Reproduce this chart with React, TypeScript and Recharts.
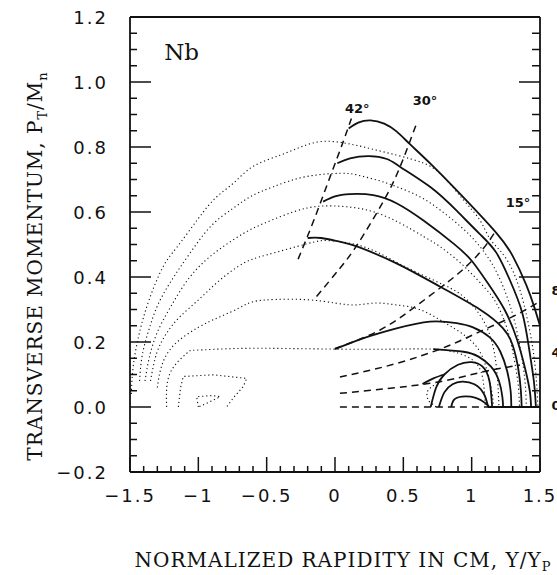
import { LineChart, Line, XAxis, YAxis, ReferenceDot } from "recharts";

type Pt = [number, number];

// axis ticks
const xMajor = [-1.5, -1, -0.5, 0, 0.5, 1, 1.5];
const yMajor = [-0.2, 0, 0.2, 0.4, 0.6, 0.8, 1.0, 1.2];
const xTicks = Array.from({ length: 31 }, (_, i) => +(-1.5 + i * 0.1).toFixed(2));
const yTicks = Array.from({ length: 29 }, (_, i) => +(-0.2 + i * 0.05).toFixed(2));

// dotted contours
const dot1: Pt[] = [[-1.49, 0.04], [-1.475, 0.13], [-1.43, 0.23], [-1.36, 0.33], [-1.26, 0.43], [-1.16, 0.49], [-1.0, 0.58], [-0.87, 0.645], [-0.74, 0.69], [-0.6, 0.74], [-0.4, 0.775], [-0.25, 0.8], [-0.1, 0.817], [0.06, 0.813], [0.21, 0.8], [0.45, 0.775], [0.65, 0.75], [0.79, 0.71], [0.94, 0.637], [1.06, 0.575], [1.13, 0.52], [1.21, 0.48], [1.3, 0.42], [1.38, 0.32], [1.44, 0.2], [1.47, 0.1], [1.485, 0.0]];
const dot2: Pt[] = [[-1.43, 0.08], [-1.41, 0.16], [-1.36, 0.24], [-1.29, 0.32], [-1.18, 0.4], [-1.05, 0.48], [-0.9, 0.56], [-0.75, 0.61], [-0.62, 0.647], [-0.45, 0.678], [-0.21, 0.709], [0.04, 0.719], [0.16, 0.714], [0.31, 0.698], [0.45, 0.678], [0.62, 0.647], [0.77, 0.606], [0.92, 0.555], [1.04, 0.504], [1.15, 0.44], [1.24, 0.36], [1.31, 0.27], [1.36, 0.17], [1.39, 0.08], [1.4, 0.0]];
const dot3: Pt[] = [[-1.39, 0.08], [-1.36, 0.15], [-1.3, 0.23], [-1.2, 0.31], [-1.08, 0.39], [-0.95, 0.45], [-0.82, 0.493], [-0.67, 0.534], [-0.52, 0.565], [-0.3, 0.601], [-0.11, 0.618], [0.085, 0.616], [0.28, 0.601], [0.48, 0.565], [0.65, 0.524], [0.77, 0.493], [0.9, 0.45], [1.0, 0.41], [1.1, 0.365], [1.18, 0.32], [1.26, 0.24], [1.31, 0.15], [1.34, 0.07], [1.35, 0.0]];
const dot4: Pt[] = [[-1.35, 0.08], [-1.305, 0.165], [-1.232, 0.227], [-1.134, 0.278], [-0.988, 0.334], [-0.841, 0.391], [-0.671, 0.442], [-0.5, 0.468], [-0.207, 0.502], [-0.05, 0.512], [0.15, 0.5], [0.33, 0.472], [0.535, 0.427], [0.795, 0.376], [0.95, 0.336], [1.08, 0.27], [1.16, 0.18], [1.19, 0.08], [1.2, 0.0]];
const dot5: Pt[] = [[-1.3, 0.06], [-1.27, 0.124], [-1.18, 0.19], [-1.0, 0.245], [-0.84, 0.278], [-0.7, 0.305], [-0.6, 0.324], [-0.43, 0.331], [-0.2, 0.33], [0.0, 0.32], [0.15, 0.314], [0.3, 0.32], [0.45, 0.314], [0.62, 0.3], [0.8, 0.26], [0.95, 0.22], [1.06, 0.17], [1.12, 0.1], [1.15, 0.04], [1.16, 0.0]];
const dot6: Pt[] = [[-1.232, 0.0], [-1.207, 0.104], [-1.085, 0.165], [-1.012, 0.175], [-0.72, 0.18], [-0.35, 0.18], [0.04, 0.178], [0.4, 0.178], [0.72, 0.178], [0.9, 0.166], [1.02, 0.14], [1.08, 0.09], [1.1, 0.0]];
const loop1: Pt[] = [[-1.146, 0.0], [-1.13, 0.06], [-1.11, 0.094], [-0.89, 0.099], [-0.646, 0.088], [-0.671, 0.063], [-0.74, 0.03], [-0.793, 0.0]];
const loop2: Pt[] = [[-1.0, 0.0], [-1.012, 0.032], [-0.9, 0.035], [-0.84, 0.032], [-0.92, 0.015], [-1.0, 0.0]];
const loop3: Pt[] = [[0.74, 0.0], [0.68, 0.02], [0.67, 0.045], [0.71, 0.065], [0.77, 0.07]];

// solid contours
const sol1: Pt[] = [[0.1, 0.857], [0.17, 0.875], [0.26, 0.882], [0.36, 0.872], [0.45, 0.848], [0.55, 0.808], [0.7, 0.748], [0.94, 0.645], [1.18, 0.536], [1.3, 0.465], [1.4, 0.375], [1.46, 0.305], [1.5, 0.25]];
const sol2: Pt[] = [[0.017, 0.75], [0.11, 0.765], [0.25, 0.772], [0.38, 0.763], [0.48, 0.738], [0.7, 0.676], [0.89, 0.604], [1.06, 0.532], [1.18, 0.475], [1.28, 0.39], [1.37, 0.29], [1.42, 0.18], [1.455, 0.08], [1.47, 0.0]];
const sol3: Pt[] = [[-0.087, 0.632], [0.0, 0.648], [0.11, 0.655], [0.28, 0.652], [0.45, 0.627], [0.65, 0.573], [0.87, 0.502], [1.0, 0.45], [1.12, 0.38], [1.24, 0.3], [1.33, 0.21], [1.39, 0.12], [1.425, 0.05], [1.435, 0.0]];
const sol4: Pt[] = [[-0.2, 0.52], [-0.1, 0.52], [0.04, 0.508], [0.16, 0.494], [0.45, 0.442], [0.77, 0.37], [1.06, 0.3], [1.23, 0.242], [1.3, 0.19], [1.34, 0.12], [1.36, 0.05], [1.366, 0.0]];
const sol5: Pt[] = [[0.0, 0.178], [0.21, 0.212], [0.45, 0.242], [0.695, 0.263], [0.89, 0.258], [1.01, 0.245], [1.13, 0.215], [1.21, 0.17], [1.26, 0.11], [1.285, 0.05], [1.29, 0.0]];
const sol6: Pt[] = [[0.72, 0.178], [0.94, 0.17], [1.05, 0.155], [1.14, 0.125], [1.2, 0.08], [1.225, 0.03], [1.23, 0.0]];
const sol7: Pt[] = [[0.64, 0.071], [0.72, 0.088], [0.8, 0.1]];
const arc1: Pt[] = [[0.7, 0.0], [0.74, 0.06], [0.8, 0.1], [0.9, 0.13], [1.0, 0.138], [1.08, 0.124], [1.13, 0.08], [1.15, 0.0]];
const arc2: Pt[] = [[0.76, 0.0], [0.8, 0.045], [0.86, 0.07], [0.93, 0.078], [1.02, 0.07], [1.09, 0.04], [1.12, 0.0]];
const arc3: Pt[] = [[0.85, 0.0], [0.87, 0.022], [0.93, 0.032], [1.03, 0.028], [1.1, 0.012], [1.13, 0.0]];
const base: Pt[] = [[1.12, 0.0], [1.5, 0.0]];

// dashed angle lines
const ang42: Pt[] = [[-0.27, 0.455], [-0.15, 0.58], [-0.03, 0.715], [0.05, 0.805], [0.12, 0.888]];
const ang30: Pt[] = [[-0.135, 0.34], [0.036, 0.427], [0.17, 0.504], [0.353, 0.632], [0.476, 0.739], [0.602, 0.878]];
const ang15: Pt[] = [[0.0, 0.18], [0.33, 0.237], [0.62, 0.319], [0.9, 0.41], [1.08, 0.485], [1.18, 0.545]];
const ang8: Pt[] = [[0.036, 0.092], [0.45, 0.134], [0.817, 0.186], [1.06, 0.232], [1.3, 0.278], [1.48, 0.32]];
const ang4: Pt[] = [[0.036, 0.042], [0.695, 0.073], [1.06, 0.106], [1.353, 0.129]];
const ang0: Pt[] = [[0.036, 0.0], [1.16, 0.0]];

const angleTags = [
  { text: "42°", x: 0.073, y: 0.906 },
  { text: "30°", x: 0.569, y: 0.929 },
  { text: "15°", x: 1.249, y: 0.614 },
  { text: "8°", x: 1.585, y: 0.345 },
  { text: "4°", x: 1.585, y: 0.155 },
  { text: "0°", x: 1.585, y: -0.009 },
];

const rows = (p: Pt[]) => p.map(([x, y]) => ({ x, y }));
const ink = "#111";
const minus = (s: string) => s.replace("-", "\u2212");

const BottomTick = ({ x, y, payload }: any) => {
  const v = payload.value;
  const major = xMajor.some((m) => Math.abs(m - v) < 1e-6);
  return (
    <g>
      <line x1={x} x2={x} y1={y} y2={y - (major ? 15 : 6)} stroke={ink} strokeWidth={1.5} />
      {major && (
        <text x={x} y={y + 30} textAnchor="middle" fontFamily="DejaVu Sans" fontSize={18} letterSpacing={2} fill={ink}>
          {minus(String(v))}
        </text>
      )}
    </g>
  );
};

const TopTick = ({ x, y, payload }: any) => {
  const major = xMajor.some((m) => Math.abs(m - payload.value) < 1e-6);
  return <line x1={x} x2={x} y1={y} y2={y + (major ? 8 : 5)} stroke={ink} strokeWidth={1.5} />;
};

const LeftTick = ({ x, y, payload }: any) => {
  const v = payload.value;
  const major = yMajor.some((m) => Math.abs(m - v) < 1e-6);
  return (
    <g>
      <line x1={x} x2={x + (major ? 21 : 7)} y1={y} y2={y} stroke={ink} strokeWidth={1.5} />
      {major && (
        <text x={x - 22} y={y + 7} textAnchor="end" fontFamily="DejaVu Sans" fontSize={18} letterSpacing={2} fill={ink}>
          {minus(v.toFixed(1))}
        </text>
      )}
    </g>
  );
};

const RightTick = ({ x, y, payload }: any) => {
  const major = yMajor.some((m) => Math.abs(m - payload.value) < 1e-6);
  return <line x1={x} x2={x - (major ? 21 : 8)} y1={y} y2={y} stroke={ink} strokeWidth={1.5} />;
};

const XTitle = ({ viewBox }: any) => (
  <text x={viewBox.x + viewBox.width / 2 + 8} y={viewBox.y + 95} textAnchor="middle" fontFamily="DejaVu Serif" fontSize={20} letterSpacing={1} fill={ink}>
    NORMALIZED RAPIDITY IN CM, Y/Y
    <tspan fontSize={13} dy={4}>P</tspan>
  </text>
);

const YTitle = () => (
  <text transform="translate(42,266) rotate(-90)" textAnchor="middle" fontFamily="DejaVu Serif" fontSize={20} letterSpacing={1} fill={ink}>
    TRANSVERSE MOMENTUM, P
    <tspan fontSize={13} dy={5}>T</tspan>
    <tspan dy={-5}>/M</tspan>
    <tspan fontSize={13} dy={5}>n</tspan>
  </text>
);

const tag = (text: string, size: number, bold: boolean, family: string) => ({ viewBox }: any) => (
  <text x={viewBox.x} y={viewBox.y} fontFamily={family} fontSize={size} fontWeight={bold ? 700 : 400} fill={ink}>
    {text}
  </text>
);

export default function App() {
  const dotted = [dot1, dot2, dot3, dot4, dot5, dot6, loop1, loop2, loop3];
  const solid = [sol1, sol2, sol3, sol4, sol5, sol6, sol7, arc1, arc2, arc3, base];
  const dashed = [ang42, ang30, ang15, ang8, ang4, ang0];

  return (
    <div style={{ position: "absolute", left: 0, top: 0 }}>
      <LineChart width={557} height={575} margin={{ top: 12, right: 7, bottom: 63, left: 70 }}>
        <XAxis
          dataKey="x"
          type="number"
          domain={[-1.5, 1.5]}
          allowDataOverflow
          ticks={xTicks}
          interval={0}
          tickSize={0}
          tickMargin={0}
          tick={<BottomTick />}
          height={40}
          axisLine={{ stroke: ink, strokeWidth: 1.8 }}
          label={<XTitle />}
        />
        <XAxis
          xAxisId="top"
          orientation="top"
          type="number"
          domain={[-1.5, 1.5]}
          allowDataOverflow
          ticks={xTicks}
          interval={0}
          tickSize={0}
          tickMargin={0}
          tick={<TopTick />}
          height={5}
          axisLine={{ stroke: ink, strokeWidth: 1.8 }}
        />
        <YAxis
          type="number"
          domain={[-0.2, 1.2]}
          allowDataOverflow
          ticks={yTicks}
          interval={0}
          tickSize={0}
          tickMargin={0}
          tick={<LeftTick />}
          width={60}
          axisLine={{ stroke: ink, strokeWidth: 1.8 }}
          label={<YTitle />}
        />
        <YAxis
          yAxisId="right"
          orientation="right"
          type="number"
          domain={[-0.2, 1.2]}
          allowDataOverflow
          ticks={yTicks}
          interval={0}
          tickSize={0}
          tickMargin={0}
          tick={<RightTick />}
          width={10}
          axisLine={{ stroke: ink, strokeWidth: 1.8 }}
        />

        {dotted.map((p, i) => (
          <Line key={"d" + i} data={rows(p)} dataKey="y" type={i >= 6 ? "linear" : "natural"} dot={false} activeDot={false}
            stroke={ink} strokeWidth={1.1} strokeDasharray="1.2 2.8" isAnimationActive={false} />
        ))}
        {solid.map((p, i) => (
          <Line key={"s" + i} data={rows(p)} dataKey="y" type="natural" dot={false} activeDot={false}
            stroke={ink} strokeWidth={1.8} isAnimationActive={false} />
        ))}
        {dashed.map((p, i) => (
          <Line key={"a" + i} data={rows(p)} dataKey="y" type="natural" dot={false} activeDot={false}
            stroke={ink} strokeWidth={1.5} strokeDasharray="7 5" isAnimationActive={false} />
        ))}

        {angleTags.map((t) => (
          <ReferenceDot key={t.text} x={t.x} y={t.y} r={0} fill="none" stroke="none" ifOverflow="visible"
            label={tag(t.text, 13, true, "DejaVu Sans")} />
        ))}
        <ReferenceDot x={-1.25} y={1.068} r={0} fill="none" stroke="none" label={tag("Nb", 23, false, "DejaVu Serif")} />
      </LineChart>
    </div>
  );
}
